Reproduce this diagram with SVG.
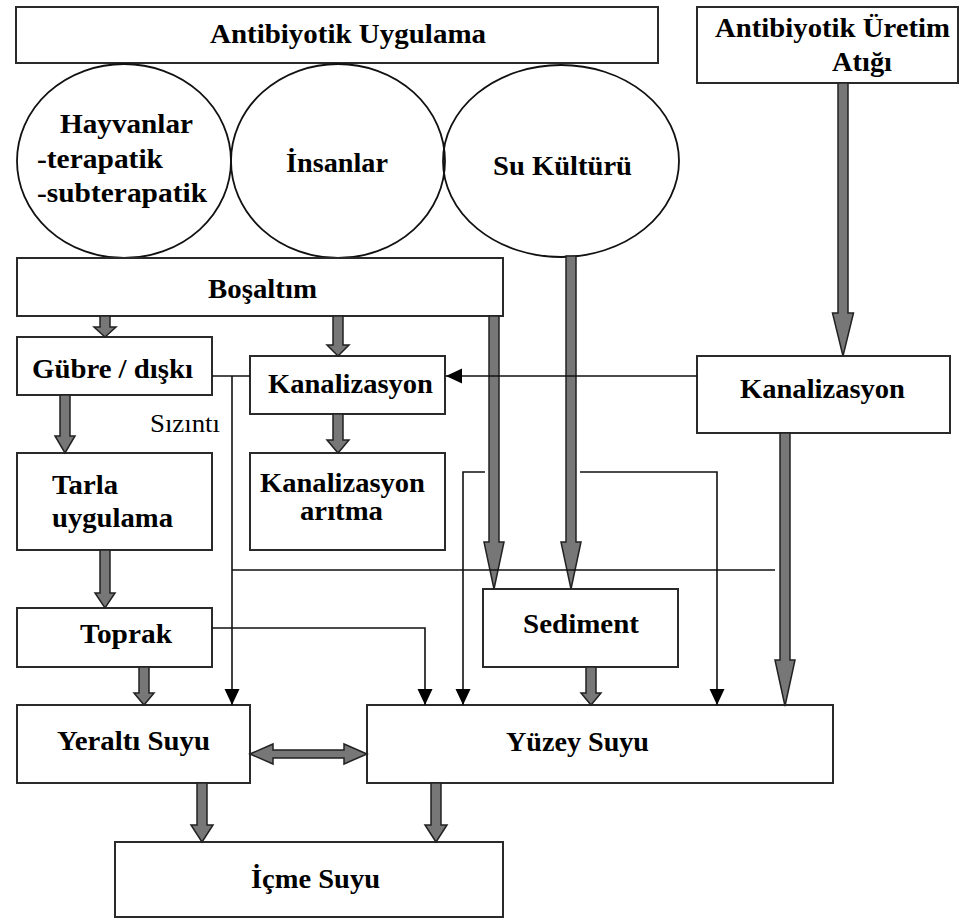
<svg xmlns="http://www.w3.org/2000/svg" width="960" height="920" viewBox="0 0 960 920">
<defs>
<marker id="ah" markerUnits="userSpaceOnUse" markerWidth="16" markerHeight="16" refX="16" refY="7.5" orient="auto">
<path d="M0,0 L16,7.5 L0,15 z" fill="#000"/>
</marker>
<style>
.box{fill:#fff;stroke:#2a2a2a;stroke-width:2}
.circ{fill:none;stroke:#111;stroke-width:1.8}
.t{font-family:"Liberation Serif","Times New Roman",serif;font-weight:bold;font-size:27.5px;fill:#000}
.r{font-family:"Liberation Serif","Times New Roman",serif;font-size:26px;fill:#000}
.thick{fill:#777;stroke:#222;stroke-width:1.5;stroke-linejoin:miter}
.thin{fill:none;stroke:#111;stroke-width:1.6}
</style>
</defs>
<rect width="960" height="920" fill="#fff"/>

<g id="antibiyotik-uygulama">
<rect class="box" x="16" y="7" width="642" height="56"/>
<text class="t" x="210" y="43" textLength="276" lengthAdjust="spacingAndGlyphs">Antibiyotik Uygulama</text>
</g>
<g id="uretim-atigi">
<rect class="box" x="697" y="7" width="261" height="76"/>
<text class="t" x="715" y="37" textLength="235" lengthAdjust="spacingAndGlyphs">Antibiyotik Üretim</text>
<text class="t" x="832" y="71" textLength="60" lengthAdjust="spacingAndGlyphs">Atığı</text>
</g>
<g id="hayvanlar">
<ellipse class="circ" cx="124" cy="161" rx="107" ry="97"/>
<text class="t" x="60" y="133" textLength="133" lengthAdjust="spacingAndGlyphs">Hayvanlar</text>
<text class="t" x="37" y="168" textLength="126" lengthAdjust="spacingAndGlyphs">-terapatik</text>
<text class="t" x="37" y="202" textLength="170" lengthAdjust="spacingAndGlyphs">-subterapatik</text>
</g>
<g id="insanlar">
<ellipse class="circ" cx="338" cy="161" rx="107" ry="97"/>
<text class="t" x="286" y="172" textLength="102" lengthAdjust="spacingAndGlyphs">İnsanlar</text>
</g>
<g id="su-kulturu">
<ellipse class="circ" cx="561" cy="161" rx="118" ry="96"/>
<text class="t" x="493" y="175" textLength="139" lengthAdjust="spacingAndGlyphs">Su Kültürü</text>
</g>
<g id="bosaltim">
<rect class="box" x="17" y="258" width="486" height="58"/>
<text class="t" x="208" y="298" textLength="109" lengthAdjust="spacingAndGlyphs">Boşaltım</text>
</g>
<g id="gubre">
<rect class="box" x="17" y="337" width="195" height="58"/>
<text class="t" x="32" y="378" textLength="161" lengthAdjust="spacingAndGlyphs">Gübre / dışkı</text>
</g>
<g id="kanalizasyon-orta">
<rect class="box" x="250" y="356" width="195" height="58"/>
<text class="t" x="268" y="393" textLength="165" lengthAdjust="spacingAndGlyphs">Kanalizasyon</text>
</g>
<g id="kanalizasyon-sag">
<rect class="box" x="697" y="356" width="253" height="77"/>
<text class="t" x="740" y="398" textLength="165" lengthAdjust="spacingAndGlyphs">Kanalizasyon</text>
</g>
<g id="tarla">
<rect class="box" x="17" y="453" width="195" height="97"/>
<text class="t" x="52" y="494" textLength="66" lengthAdjust="spacingAndGlyphs">Tarla</text>
<text class="t" x="52" y="527" textLength="121" lengthAdjust="spacingAndGlyphs">uygulama</text>
</g>
<g id="aritma">
<rect class="box" x="250" y="453" width="195" height="97"/>
<text class="t" x="260" y="492" textLength="165" lengthAdjust="spacingAndGlyphs">Kanalizasyon</text>
<text class="t" x="300" y="520" textLength="83" lengthAdjust="spacingAndGlyphs">arıtma</text>
</g>
<g id="toprak">
<rect class="box" x="17" y="608" width="195" height="59"/>
<text class="t" x="80" y="643" textLength="92" lengthAdjust="spacingAndGlyphs">Toprak</text>
</g>
<g id="sediment">
<rect class="box" x="483" y="589" width="195" height="78"/>
<text class="t" x="523" y="633" textLength="116" lengthAdjust="spacingAndGlyphs">Sediment</text>
</g>
<g id="yeralti">
<rect class="box" x="17" y="705" width="233" height="78"/>
<text class="t" x="57" y="750" textLength="153" lengthAdjust="spacingAndGlyphs">Yeraltı Suyu</text>
</g>
<g id="yuzey">
<rect class="box" x="367" y="705" width="466" height="78"/>
<text class="t" x="506" y="751" textLength="143" lengthAdjust="spacingAndGlyphs">Yüzey Suyu</text>
</g>
<g id="icme">
<rect class="box" x="115" y="842" width="388" height="75"/>
<text class="t" x="251" y="888" textLength="129" lengthAdjust="spacingAndGlyphs">İçme Suyu</text>
</g>

<g id="connectors">
<polygon class="thick" points="100,316 110,316 110,327 116,327 105,337 94,327 100,327"/>
<polygon class="thick" points="333,316 343,316 343,345 349,345 338,356 327,345 333,345"/>
<polygon class="thick" points="60,395 70,395 70,436 75,436 65,453 55,436 60,436"/>
<polygon class="thick" points="333,414 343,414 343,440 349,440 338,453 327,440 333,440"/>
<polygon class="thick" points="100,550 110,550 110,593 115,593 105,608 95,593 100,593"/>
<polygon class="thick" points="139,667 149,667 149,693 154,693 144,705 134,693 139,693"/>
<polygon class="thick" points="586,667 596,667 596,693 601,693 591,705 581,693 586,693"/>
<polygon class="thick" points="197,783 207,783 207,825 213,825 202,842 191,825 197,825"/>
<polygon class="thick" points="431,783 441,783 441,825 447,825 436,842 425,825 431,825"/>
<polygon class="thick" points="838,83 848,83 848,313 853.5,313 843,356 832.5,313 838,313"/>
<polygon class="thick" points="489,316 499,316 499,542 504,542 494,589 484,542 489,542"/>
<polygon class="thick" points="566,256 576,256 576,542 581,542 571,589 561,542 566,542"/>
<polygon class="thick" points="780,433 790,433 790,660 795,660 785,706 775,660 780,660"/>
<polygon class="thick" points="250,754 273,744 273,750 344,750 344,744 367,754 344,764 344,758 273,758 273,764"/>

<line class="thin" x1="212" y1="376" x2="250" y2="376"/>
<path class="thin" d="M232,376 L232,705" marker-end="url(#ah)"/>
<path class="thin" d="M697,376 L446,376" marker-end="url(#ah)"/>
<line class="thin" x1="232" y1="570" x2="775" y2="570"/>
<path class="thin" d="M485,472 L463,472 L463,705" marker-end="url(#ah)"/>
<path class="thin" d="M580,472 L717,472 L717,705" marker-end="url(#ah)"/>
<path class="thin" d="M212,628 L425,628 L425,705" marker-end="url(#ah)"/>
<text class="r" x="150" y="432" textLength="70" lengthAdjust="spacingAndGlyphs">Sızıntı</text>
</g>
</svg>
